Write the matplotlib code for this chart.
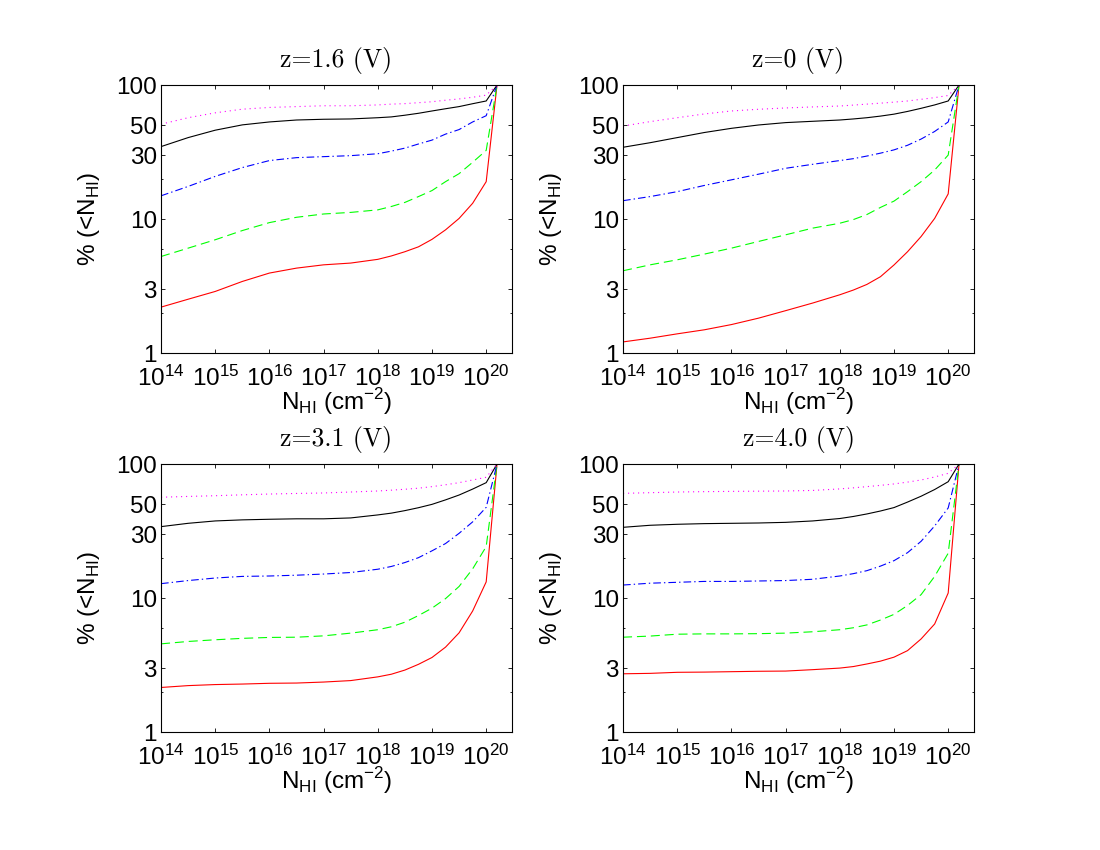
import matplotlib
matplotlib.use('Agg')
import matplotlib.pyplot as plt
from matplotlib.ticker import FixedLocator, NullFormatter, LogLocator, FixedFormatter
import numpy as np

plt.rcParams['font.family'] = ['Liberation Sans', 'DejaVu Sans']
plt.rcParams['lines.scale_dashes'] = False

log_nhi = [14, 14.5, 15, 15.5, 16, 16.5, 17, 17.5,
           18, 18.25, 18.5, 18.75, 19, 19.25, 19.5, 19.75, 20, 20.2]

titles = ['z=1.6 (V)', 'z=0 (V)', 'z=3.1 (V)', 'z=4.0 (V)']

# percentages, one list per curve, one block per panel
z16_red = [2.2, 2.52, 2.88, 3.42, 3.95, 4.3, 4.55, 4.69,
           5.0, 5.3, 5.7, 6.2, 7.05, 8.3, 10.1, 13.1, 19, 100]
z16_green = [5.25, 6.06, 7.0, 8.2, 9.4, 10.3, 10.9, 11.2,
             11.7, 12.4, 13.3, 14.7, 16.3, 19, 21.8, 26.5, 32.5, 100]
z16_blue = [14.9, 17.5, 20.8, 24.2, 27.3, 28.7, 29.2, 29.7,
            30.7, 32.1, 33.8, 36.3, 38.8, 43, 46.5, 53, 59, 100]
z16_black = [34.7, 40.5, 46, 50.4, 53, 54.8, 55.5, 55.8,
             57, 57.8, 59.5, 61.5, 64, 66.5, 69, 72.5, 76, 100]
z16_mag = [51, 57, 62, 66, 68, 69, 70, 70,
           71, 72, 72.6, 73.8, 75, 77, 78.7, 81, 84, 100]

z0_red = [1.21, 1.29, 1.39, 1.49, 1.63, 1.82, 2.07, 2.36,
          2.72, 2.95, 3.25, 3.71, 4.54, 5.7, 7.4, 10.1, 15.4, 100]
z0_green = [4.11, 4.55, 4.96, 5.47, 6.06, 6.8, 7.62, 8.55,
            9.3, 9.9, 10.8, 12.2, 13.6, 16, 19, 23.2, 30, 100]
z0_blue = [13.7, 14.7, 16.0, 17.8, 19.6, 21.6, 23.9, 25.6,
           27.3, 28.2, 29.5, 31, 32.8, 35.5, 39.5, 45, 53, 100]
z0_black = [34.3, 37.1, 40.5, 44.2, 47.5, 50.3, 52.4, 53.6,
            54.8, 55.8, 57, 58.6, 60.6, 63.5, 67, 71, 76, 100]
z0_mag = [49.4, 53.3, 57, 60.8, 64, 65.9, 67.4, 68.6,
          69.7, 70.8, 72, 73.2, 74.5, 76, 78.2, 80.5, 83.5, 100]

z31_red = [2.15, 2.22, 2.26, 2.28, 2.31, 2.32, 2.36, 2.42,
           2.58, 2.7, 2.9, 3.2, 3.6, 4.3, 5.5, 8.0, 13.2, 100]
z31_green = [4.55, 4.74, 4.88, 5.0, 5.08, 5.1, 5.22, 5.47,
             5.8, 6.1, 6.6, 7.4, 8.4, 9.9, 12.2, 16.5, 24.2, 100]
z31_blue = [12.8, 13.5, 14.1, 14.5, 14.6, 14.8, 15.1, 15.5,
            16.4, 17.2, 18.4, 20, 22.5, 25.5, 30.4, 37, 47.5, 100]
z31_black = [34.1, 36.1, 37.6, 38.3, 38.7, 39, 39, 39.6,
             41.7, 43, 44.9, 47.2, 50, 54, 58.7, 65, 72.6, 100]
z31_mag = [56.5, 57.3, 58, 58.9, 59.7, 60.3, 60.8, 61.8,
           62.9, 63.8, 64.8, 66, 67.8, 70, 72.6, 76, 79.6, 100]

z40_red = [2.72, 2.74, 2.79, 2.8, 2.82, 2.84, 2.85, 2.92,
           3.0, 3.08, 3.22, 3.38, 3.62, 4.05, 4.95, 6.4, 10.9, 100]
z40_green = [5.1, 5.2, 5.37, 5.4, 5.4, 5.42, 5.47, 5.6,
             5.8, 6.0, 6.3, 6.85, 7.55, 8.8, 10.6, 14.5, 21.6, 100]
z40_blue = [12.5, 12.9, 13.1, 13.3, 13.3, 13.4, 13.5, 13.8,
            14.6, 15.2, 16.0, 17.3, 19.0, 21.8, 26.5, 34.5, 47, 100]
z40_black = [33.7, 34.9, 35.5, 35.9, 36.1, 36.3, 36.7, 37.6,
             39.2, 40.6, 42.4, 44.6, 47.3, 52, 57.5, 64.5, 73.8, 100]
z40_mag = [60.4, 61.1, 61.8, 62.2, 62.5, 62.7, 62.9, 63.5,
           65.2, 66.4, 67.8, 69.3, 71, 73.3, 76, 80, 85.2, 100]

panels = [
    [z16_red, z16_green, z16_blue, z16_black, z16_mag],
    [z0_red, z0_green, z0_blue, z0_black, z0_mag],
    [z31_red, z31_green, z31_blue, z31_black, z31_mag],
    [z40_red, z40_green, z40_blue, z40_black, z40_mag],
]

styles = [
    dict(color='#ff0000', linestyle='-'),
    dict(color='#00ff00', dashes=(6.5, 3.5)),
    dict(color='#0000ff', dashes=(5.5, 2.2, 1.0, 2.2)),
    dict(color='#000000', linestyle='-'),
    dict(color='#ff00ff', dashes=(0.8, 2.8)),
]

yticks = [1, 3, 10, 30, 50, 100]
yminor = [2, 6, 20]

boxes = [
    [0.1464, 0.5847, 0.3191, 0.3153],
    [0.5664, 0.5847, 0.3191, 0.3153],
    [0.1464, 0.1388, 0.3191, 0.3153],
    [0.5664, 0.1388, 0.3191, 0.3153],
]

fig = plt.figure(figsize=(11, 8.5), dpi=100)
x = 10.0 ** np.array(log_nhi)

for box, title, curves in zip(boxes, titles, panels):
    ax = fig.add_axes(box)
    for y, st in zip(curves, styles):
        ax.plot(x, y, lw=0.8, **st)
    ax.set_xscale('log')
    ax.set_yscale('log')
    ax.set_xlim(1e14, 3e20)
    ax.set_ylim(1, 100)
    ax.xaxis.set_major_locator(FixedLocator([10.0 ** k for k in range(14, 21)]))
    ax.xaxis.set_minor_locator(LogLocator(base=10, subs=np.arange(2, 10)))
    ax.xaxis.set_minor_formatter(NullFormatter())
    ax.yaxis.set_major_locator(FixedLocator(yticks))
    ax.yaxis.set_major_formatter(FixedFormatter([str(v) for v in yticks]))
    ax.yaxis.set_minor_locator(FixedLocator(yminor))
    ax.yaxis.set_minor_formatter(NullFormatter())
    ax.tick_params(which='both', direction='in', top=True, right=True,
                   labelsize=17.5, width=0.6)
    ax.tick_params(which='major', length=3)
    ax.tick_params(which='minor', length=1.6)
    ax.tick_params(axis='x', pad=9)
    ax.tick_params(axis='y', pad=3)
    for sp in ax.spines.values():
        sp.set_linewidth(0.8)
    ax.set_title(title, fontfamily='cmr10', fontsize=18.5, pad=13)
    ax.set_xlabel(r'N$_\mathregular{HI}$ (cm$^\mathregular{-2}$)', fontsize=17.5, labelpad=-3)
    ax.set_ylabel(r'% (<N$_\mathregular{HI}$)', fontsize=17.5, labelpad=10)

fig.savefig('out.png', dpi=100)
